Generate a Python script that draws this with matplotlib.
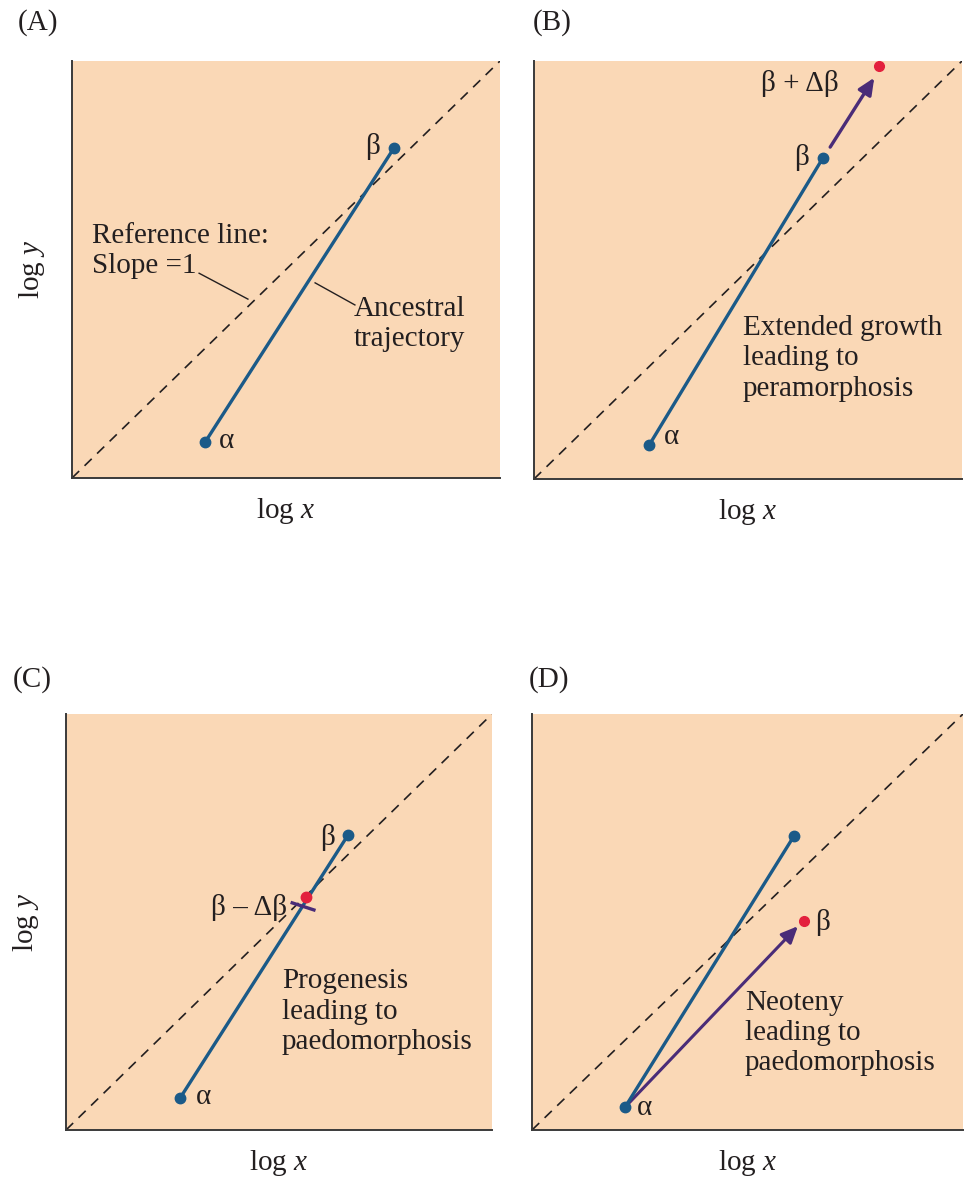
import matplotlib.pyplot as plt

plt.rcParams['font.family'] = ['Liberation Serif', 'DejaVu Serif']
plt.rcParams['mathtext.fontset'] = 'custom'
plt.rcParams['mathtext.rm'] = 'Liberation Serif'
plt.rcParams['mathtext.it'] = 'Liberation Serif:italic'

# ancestral trajectories (start alpha, end beta), axes scaled 0..1
panels = ['(A)', '(B)', '(C)', '(D)']
alpha_x = [0.311, 0.269, 0.268, 0.216]
alpha_y = [0.086, 0.081, 0.077, 0.055]
beta_x = [0.752, 0.675, 0.662, 0.608]
beta_y = [0.791, 0.768, 0.709, 0.707]

# descendant endpoints
pera_end = (0.806, 0.988)        # B: beta + delta beta
pera_arrow = [(0.692, 0.794), (0.795, 0.960)]
prog_end = (0.563, 0.560)        # C: beta - delta beta
prog_cut = [(0.531, 0.546), (0.582, 0.529)]
neot_end = (0.631, 0.502)        # D: neoteny
neot_arrow = [(0.216, 0.055), (0.617, 0.490)]

BG = '#fad8b6'
BLUE = '#1b5a88'
RED = '#e3203d'
PURPLE = '#4a2c78'
INK = '#231f20'
FS = 21
LS = 1.22

fig = plt.figure(figsize=(9.71, 11.9), dpi=100)
W, H = 971, 1190

# axes boxes in pixels: left, top, right, bottom
boxes = [(72, 61, 500, 478), (534, 61, 962, 479),
         (66, 714, 492, 1130), (532, 714, 963, 1130)]
letter_pos = [(18, 23), (533, 23), (13, 680), (529, 680)]

axes = []
for i, (l, t, r, b) in enumerate(boxes):
    ax = fig.add_axes([l / W, 1 - b / H, (r - l) / W, (b - t) / H])
    ax.set_xlim(0, 1)
    ax.set_ylim(0, 1)
    ax.set_facecolor(BG)
    for s in ['top', 'right']:
        ax.spines[s].set_visible(False)
    for s in ['left', 'bottom']:
        ax.spines[s].set_color('#3a3a3a')
        ax.spines[s].set_linewidth(1.4)
    ax.set_xticks([])
    ax.set_yticks([])
    # slope = 1 reference line
    ax.plot([0, 1], [0, 1], color=INK, lw=1.2, ls=(0, (6, 4.5)), zorder=1)
    # ancestral trajectory
    ax.plot([alpha_x[i], beta_x[i]], [alpha_y[i], beta_y[i]], color=BLUE,
            lw=2.4, solid_capstyle='round', zorder=3)
    ax.plot([alpha_x[i], beta_x[i]], [alpha_y[i], beta_y[i]], 'o', color=BLUE,
            ms=7.5, zorder=4)
    axes.append(ax)

    # panel letters and axis labels
    lx, ly = letter_pos[i]
    fig.text(lx / W, 1 - ly / H, panels[i], fontsize=FS, ha='left',
             va='center', color=INK)
    fig.text((l + r) / 2 / W, 1 - (b + 33) / H, r'log $x$', fontsize=FS,
             ha='center', va='center', color=INK)
    if i in (0, 2):
        fig.text((l - 40) / W, 1 - (t + b) / 2 / H, r'log $y$', fontsize=FS,
                 ha='center', va='center', rotation=90, color=INK)

head = '-|>,head_length=1.0,head_width=0.45'

# (A) ancestral trajectory with reference line
ax = axes[0]
ax.text(0.703, 0.794, 'β', fontsize=FS, ha='center', va='center', color=INK)
ax.text(0.362, 0.089, 'α', fontsize=FS, ha='center', va='center', color=INK)
ax.text(0.047, 0.544, 'Reference line:\nSlope =1', fontsize=FS, ha='left',
        va='center', linespacing=LS, color=INK)
ax.plot([0.297, 0.411], [0.491, 0.429], color=INK, lw=1.0)
ax.text(0.659, 0.369, 'Ancestral\ntrajectory', fontsize=FS, ha='left',
        va='center', linespacing=LS, color=INK)
ax.plot([0.568, 0.661], [0.468, 0.415], color=INK, lw=1.0)

# (B) peramorphosis
ax = axes[1]
ax.text(0.626, 0.770, 'β', fontsize=FS, ha='center', va='center', color=INK)
ax.text(0.322, 0.100, 'α', fontsize=FS, ha='center', va='center', color=INK)
ax.annotate('', xy=pera_arrow[1], xytext=pera_arrow[0],
            arrowprops=dict(arrowstyle=head, color=PURPLE, lw=2.4,
                            shrinkA=0, shrinkB=0))
ax.plot(*pera_end, 'o', color=RED, ms=7, zorder=5, clip_on=False)
ax.text(0.621, 0.947, 'β + Δβ', fontsize=FS, ha='center', va='center', color=INK)
ax.text(0.488, 0.289, 'Extended growth\nleading to\nperamorphosis',
        fontsize=FS, ha='left', va='center', linespacing=LS, color=INK)

# (C) progenesis
ax = axes[2]
ax.text(0.615, 0.704, 'β', fontsize=FS, ha='center', va='center', color=INK)
ax.text(0.322, 0.079, 'α', fontsize=FS, ha='center', va='center', color=INK)
ax.plot([p[0] for p in prog_cut], [p[1] for p in prog_cut], color=PURPLE,
        lw=2.4, zorder=5)
ax.plot(*prog_end, 'o', color=RED, ms=7.5, zorder=6)
ax.text(0.519, 0.534, 'β – Δβ', fontsize=FS, ha='right', va='center', color=INK)
ax.text(0.507, 0.284, 'Progenesis\nleading to\npaedomorphosis',
        fontsize=FS, ha='left', va='center', linespacing=LS, color=INK)

# (D) neoteny
ax = axes[3]
ax.annotate('', xy=neot_arrow[1], xytext=neot_arrow[0],
            arrowprops=dict(arrowstyle=head, color=PURPLE, lw=2.2,
                            shrinkA=0, shrinkB=0),
            zorder=2)
ax.plot(*neot_end, 'o', color=RED, ms=7, zorder=5)
ax.text(0.673, 0.500, 'β', fontsize=FS, ha='center', va='center', color=INK)
ax.text(0.262, 0.053, 'α', fontsize=FS, ha='center', va='center', color=INK)
ax.text(0.494, 0.233, 'Neoteny\nleading to\npaedomorphosis',
        fontsize=FS, ha='left', va='center', linespacing=LS, color=INK)

fig.savefig('out.png', dpi=100, facecolor='white')
